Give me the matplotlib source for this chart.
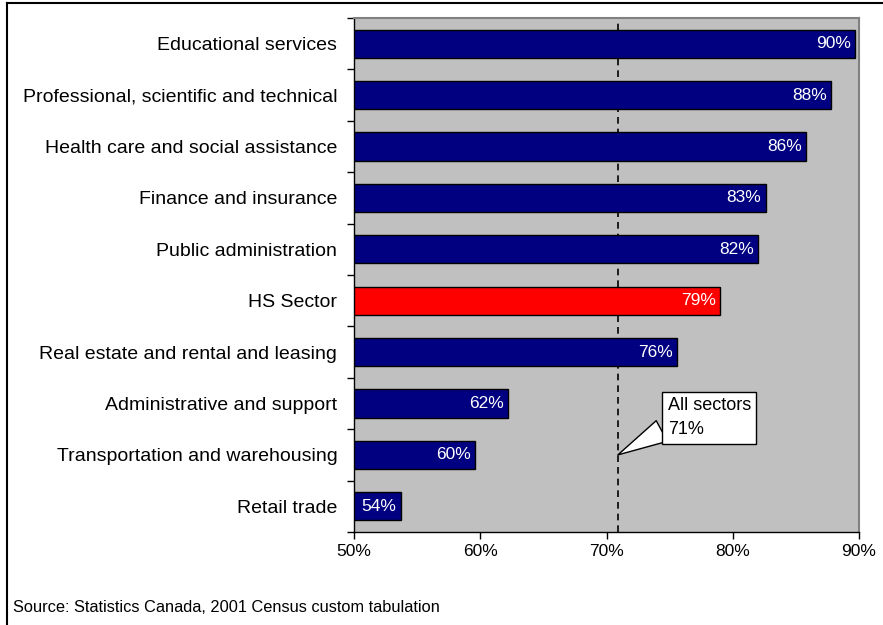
"""Horizontal bar chart of shares by industry sector, with an all-sector reference line."""

import matplotlib

matplotlib.use("Agg")

import numpy as np
from matplotlib import pyplot as plt
from matplotlib.lines import Line2D

plt.rcParams["font.family"] = ["Liberation Sans", "DejaVu Sans"]

sectors = [
    "Educational services",
    "Professional, scientific and technical",
    "Health care and social assistance",
    "Finance and insurance",
    "Public administration",
    "HS Sector",
    "Real estate and rental and leasing",
    "Administrative and support",
    "Transportation and warehousing",
    "Retail trade",
]
shares = [89.7, 87.8, 85.8, 82.6, 82.0, 79.0, 75.6, 62.2, 59.6, 53.7]
highlight = "HS Sector"
all_sectors = 70.9
x_ticks = [50, 60, 70, 80, 90]
source_note = "Source: Statistics Canada, 2001 Census custom tabulation"

NAVY = "#000080"
RED = "#ff0000"
PANEL = "#c0c0c0"

fig = plt.figure(figsize=(8.83, 6.25), dpi=100)
ax = fig.add_axes([354 / 883, 1 - 532 / 625, 505 / 883, 514 / 625])
ax.set_facecolor(PANEL)

y_pos = np.arange(len(sectors))
colors = [RED if s == highlight else NAVY for s in sectors]
base = x_ticks[0]
ax.barh(y_pos, [v - base for v in shares], left=base, height=0.545,
        color=colors, edgecolor="black", linewidth=1.0, zorder=3)

for y, v in zip(y_pos, shares):
    ax.text(v - 0.35, y, f"{v:.0f}%", ha="right", va="center",
            color="white", fontsize=12.5, zorder=4)

ax.axvline(all_sectors, color="black", linestyle=(0, (4, 3)), linewidth=1.2, zorder=2)

ax.set_xlim(x_ticks[0], x_ticks[-1])
ax.set_ylim(len(sectors) - 0.5, -0.5)

ax.set_xticks(x_ticks)
ax.set_xticklabels([f"{t}%" for t in x_ticks], fontsize=12.5)
ax.tick_params(axis="x", direction="out", length=5, width=1, pad=4)

ax.set_yticks(y_pos)
ax.set_yticklabels(sectors, fontsize=14)
ax.set_yticks(np.arange(len(sectors) + 1) - 0.5, minor=True)
ax.tick_params(axis="y", which="major", length=0, pad=12)
ax.tick_params(axis="y", which="minor", direction="out", length=5, width=1)

for side in ("left", "bottom"):
    ax.spines[side].set_color("black")
    ax.spines[side].set_linewidth(1.0)
for side in ("top", "right"):
    ax.spines[side].set_color("#808080")
    ax.spines[side].set_linewidth(1.5)

# callout pointing at the all-sector line
ax.annotate(
    f"All sectors\n{all_sectors:.0f}%",
    xy=(all_sectors, 8.0), xytext=(74.85, 7.28),
    ha="left", va="center", fontsize=13, linespacing=1.55,
    bbox=dict(boxstyle="square,pad=0.3", fc="white", ec="black", lw=1.0),
    arrowprops=dict(arrowstyle="wedge,tail_width=1.3,shrink_factor=0.5",
                    fc="white", ec="black", lw=1.0, shrinkA=0, shrinkB=0,
                    connectionstyle="arc3,rad=0", relpos=(0.0, 0.26)),
    zorder=5,
)

fig.text(13 / 883, 1 - 607 / 625, source_note, ha="left", va="center", fontsize=11.8)

# frame lines along the top and left of the canvas
fig.add_artist(Line2D([7 / 883, 1], [1 - 3 / 625, 1 - 3 / 625], color="black", lw=1.5,
                      transform=fig.transFigure))
fig.add_artist(Line2D([7 / 883, 7 / 883], [0, 1 - 3 / 625], color="black", lw=1.5,
                      transform=fig.transFigure))

fig.savefig("out.png", dpi=100)
